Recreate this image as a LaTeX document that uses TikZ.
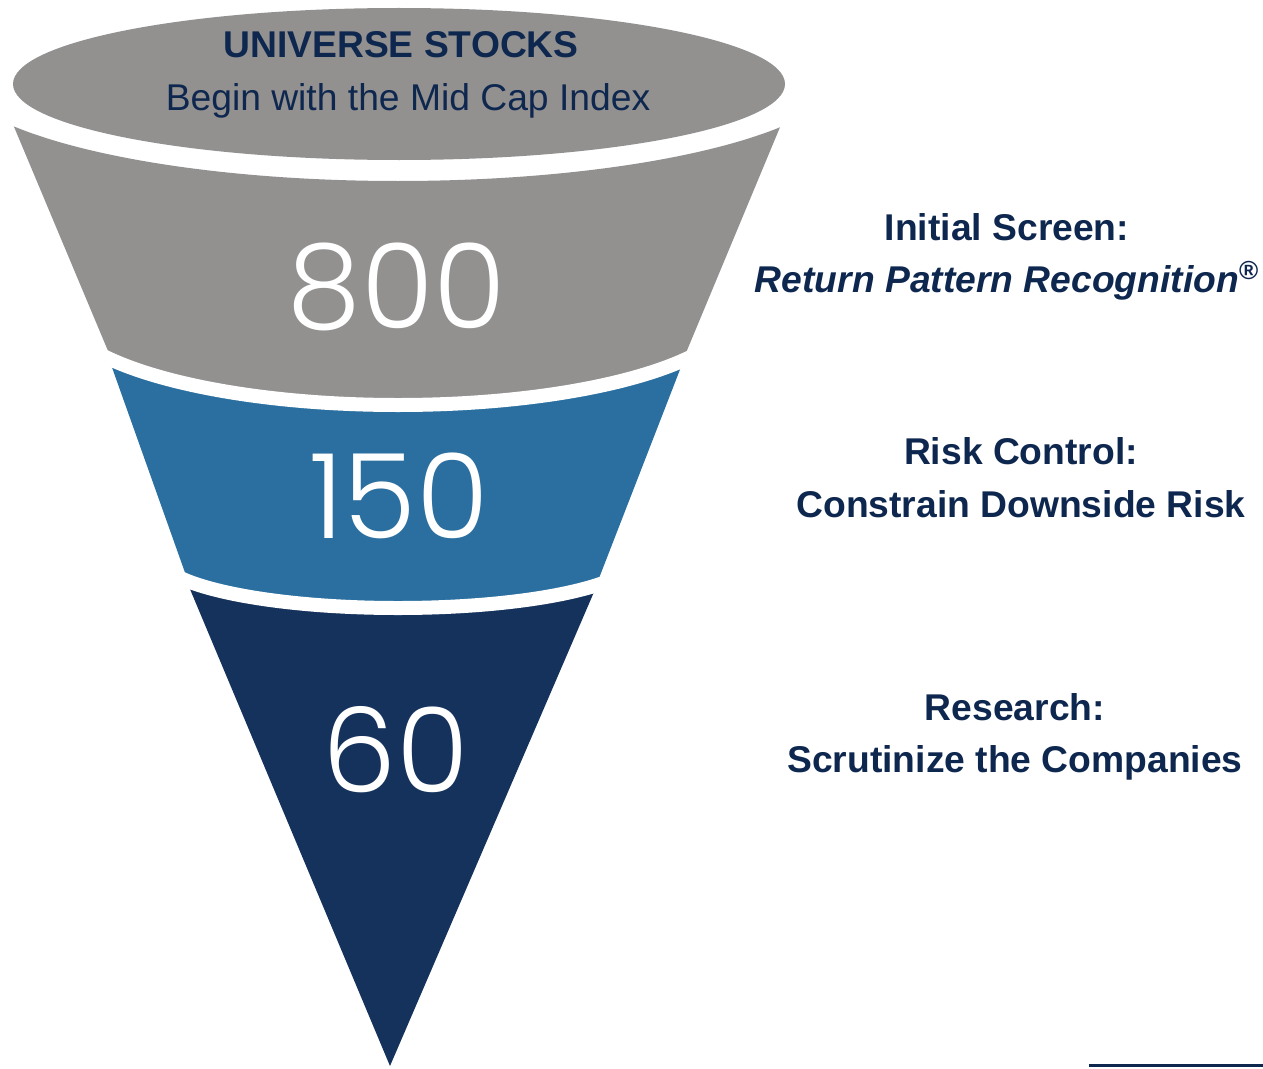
\documentclass[tikz,border=0pt]{standalone}
\usepackage{fontspec}
\setmainfont{Liberation Sans}
\IfFontExistsTF{Poppins Light}{\newfontfamily\countfont{Poppins Light}}{\newfontfamily\countfont{Poppins}}
\usetikzlibrary{positioning}

\definecolor{funnelgray}{RGB}{147,144,144}
\definecolor{funnelblue}{RGB}{42,111,160}
\definecolor{funnelnavy}{RGB}{21,50,92}
\definecolor{textnavy}{RGB}{14,39,79}

% everything above a half ellipse: centre x, centre y, x radius, y radius
\newcommand{\capregion}[4]{(-200,#2) -- (#1-#3,#2) arc[start angle=180, end angle=0, x radius=#3, y radius=#4] -- (1500,#2) -- (1500,-100) -- (-200,-100) -- cycle}

\begin{document}
\begin{tikzpicture}[
  x=0.02cm, y=-0.02cm,
  gapline/.style={white, line width=0.28cm},
  countlabel/.style={text=white, font=\countfont\fontsize{67}{67}\selectfont, inner sep=0pt},
  toptitle/.style={text=textnavy, font=\fontsize{21.2}{26}\selectfont\bfseries, inner sep=0pt},
  topsub/.style={text=textnavy, font=\fontsize{21.2}{26}\selectfont, inner sep=0pt},
  stage/.style={text=textnavy, font=\fontsize{21.2}{30}\selectfont\bfseries, align=center, inner sep=0pt}
]
  \useasboundingbox (0,0) rectangle (1263,1068);

  % gray band
  \begin{scope}
    \clip (-14,60) -- (808,60) -- (658,420) -- (137,420) -- cycle;
    \fill[funnelgray, even odd rule] \capregion{398}{307}{340}{98} \capregion{398}{67}{450}{114};
  \end{scope}

  % blue band
  \begin{scope}
    \clip (88,300) -- (707,300) -- (575,640) -- (209,640) -- cycle;
    \fill[funnelblue, even odd rule] \capregion{398}{556}{240}{52} \capregion{398}{307}{340}{98};
  \end{scope}

  % navy tip
  \begin{scope}
    \clip (161,520) -- (625,520) -- (390,1066) -- cycle;
    \fill[funnelnavy, even odd rule] (0,0) rectangle (1263,1068) \capregion{398}{556}{240}{52};
  \end{scope}

  % white gaps between the bands
  \draw[gapline] (398-340,307) arc[start angle=180, end angle=0, x radius=340, y radius=98];
  \draw[gapline] (398-240,556) arc[start angle=180, end angle=0, x radius=240, y radius=52];

  % top of the funnel
  \fill[funnelgray] (399,84) ellipse [x radius=386, y radius=76];
  \node[toptitle] (universe) at (401,45) {UNIVERSE STOCKS};
  \node[topsub] (midcap) at (408,101) {Begin with the Mid Cap Index};

  % stock counts
  \node[countlabel] (n800) at (397,287) {800};
  \node[countlabel] (n150) at (399,496) {150};
  \node[countlabel] (n60) at (396,750) {60};

  % stages on the right
  \node[stage] (screen) at (1007,257) {Initial Screen:\\\textit{Return Pattern Recognition}\textsuperscript{®}};
  \node[stage] (risk) at (1021,478) {Risk Control:\\Constrain Downside Risk};
  \node[stage] (research) at (1015,737) {Research:\\Scrutinize the Companies};

  \coordinate (rule west) at (1089,1065);
  \coordinate (rule east) at (1263,1065);
  \draw[textnavy, line width=0.06cm] (rule west) -- (rule east);
\end{tikzpicture}
\end{document}
